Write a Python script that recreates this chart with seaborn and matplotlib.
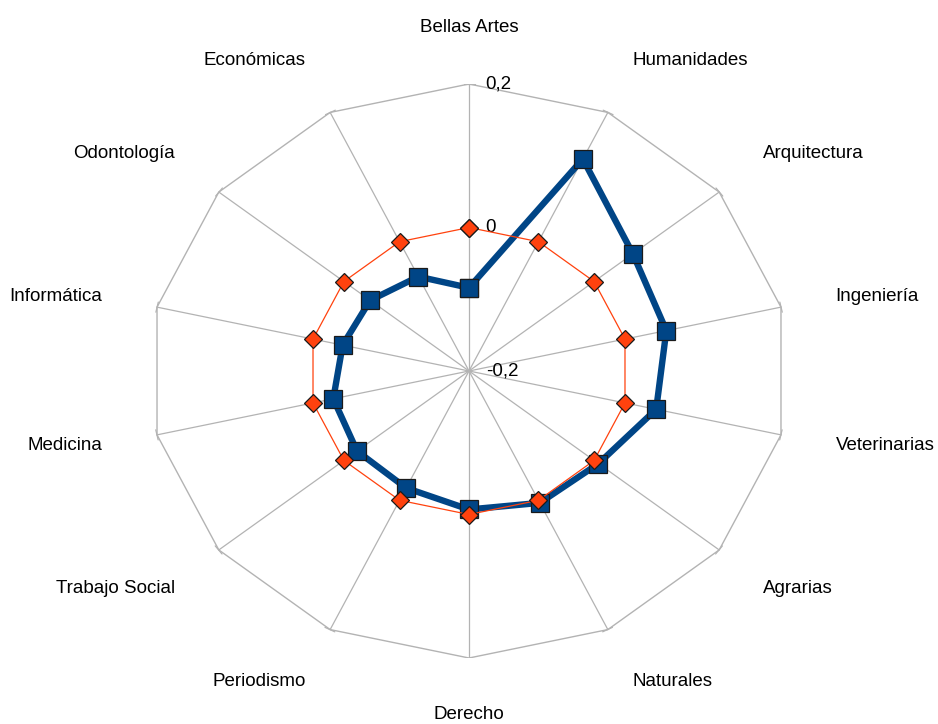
import matplotlib
matplotlib.use("Agg")
import matplotlib.pyplot as plt
import numpy as np
import pandas as pd
import seaborn as sns

# categories clockwise from the top
categorias = ["Bellas Artes", "Humanidades", "Arquitectura", "Ingeniería",
              "Veterinarias", "Agrarias", "Naturales", "Derecho", "Periodismo",
              "Trabajo Social", "Medicina", "Informática", "Odontología",
              "Económicas"]
serie_azul = [-0.084, 0.128, 0.062, 0.053, 0.040, 0.007, 0.004,
              -0.007, -0.019, -0.021, -0.026, -0.038, -0.042, -0.054]
serie_roja = [0.0, 0.0, 0.0, 0.0, 0.0, 0.0, 0.0,
              0.0, 0.0, 0.0, 0.0, 0.0, 0.0, 0.0]
niveles = [-0.2, 0.0, 0.2]
niveles_txt = ["-0,2", "0", "0,2"]

VMIN, VMAX = niveles[0], niveles[-1]
AZUL = "#004586"
ROJO = "#ff420e"
GRIS = "#b3b3b3"

sns.set_theme(style="white")
plt.rcParams["font.family"] = ["Liberation Sans", "DejaVu Sans"]
plt.rcParams["font.size"] = 13.5

n = len(categorias)
ang = np.arange(n) * 2 * np.pi / n
seno, coseno = np.sin(ang), np.cos(ang)


def polar_df(valores, nombre):
    r = (np.asarray(valores) - VMIN) / (VMAX - VMIN)
    df = pd.DataFrame({"categoria": categorias, "r": r,
                       "x": r * seno, "y": r * coseno, "serie": nombre})
    return pd.concat([df, df.iloc[[0]]], ignore_index=True)  # close polygon


W, H = 938, 724
cx, cy, rx, ry = 469, 371, 320, 287
fig = plt.figure(figsize=(W / 100, H / 100), dpi=100)
ax = fig.add_axes([(cx - rx) / W, (H - cy - ry) / H, 2 * rx / W, 2 * ry / H])
ax.set_xlim(-1, 1)
ax.set_ylim(-1, 1)
ax.axis("off")

# grid: spokes, outer polygon and little ticks at its corners
for s, c in zip(seno, coseno):
    ax.plot([0, s], [0, c], color=GRIS, lw=0.9, zorder=1)
    ax.plot([s - 0.016 * c, s + 0.018 * c], [c + 0.018 * s, c - 0.018 * s],
            color=GRIS, lw=0.9, zorder=1)
ax.plot(np.r_[seno, seno[0]], np.r_[coseno, coseno[0]], color=GRIS, lw=1.0, zorder=1)

azul = polar_df(serie_azul, "azul")
roja = polar_df(serie_roja, "roja")

sns.lineplot(data=azul, x="x", y="y", sort=False, estimator=None, color=AZUL,
             lw=4.6, marker="s", markersize=12.5, markeredgecolor="#1a1a1a",
             markeredgewidth=0.9, markerfacecolor=AZUL, ax=ax, zorder=3)
sns.lineplot(data=roja, x="x", y="y", sort=False, estimator=None, color=ROJO,
             lw=0.9, marker="D", markersize=9, markeredgecolor="#1a1a1a",
             markeredgewidth=0.9, markerfacecolor=ROJO, ax=ax, zorder=4)

# category labels
for nombre, s, c in zip(categorias, seno, coseno):
    ha = "left" if s > 0.05 else ("right" if s < -0.05 else "center")
    va = "bottom" if c > 0.4 else ("top" if c < -0.4 else "center")
    ax.text(1.175 * s, 1.168 * c, nombre, ha=ha, va=va, color="black",
            clip_on=False)

# radial value labels
for v, t in zip(niveles, niveles_txt):
    r = (v - VMIN) / (VMAX - VMIN)
    ax.text(0.052, r, t, ha="left", va="center", color="black")

fig.savefig("out.png", dpi=100)
